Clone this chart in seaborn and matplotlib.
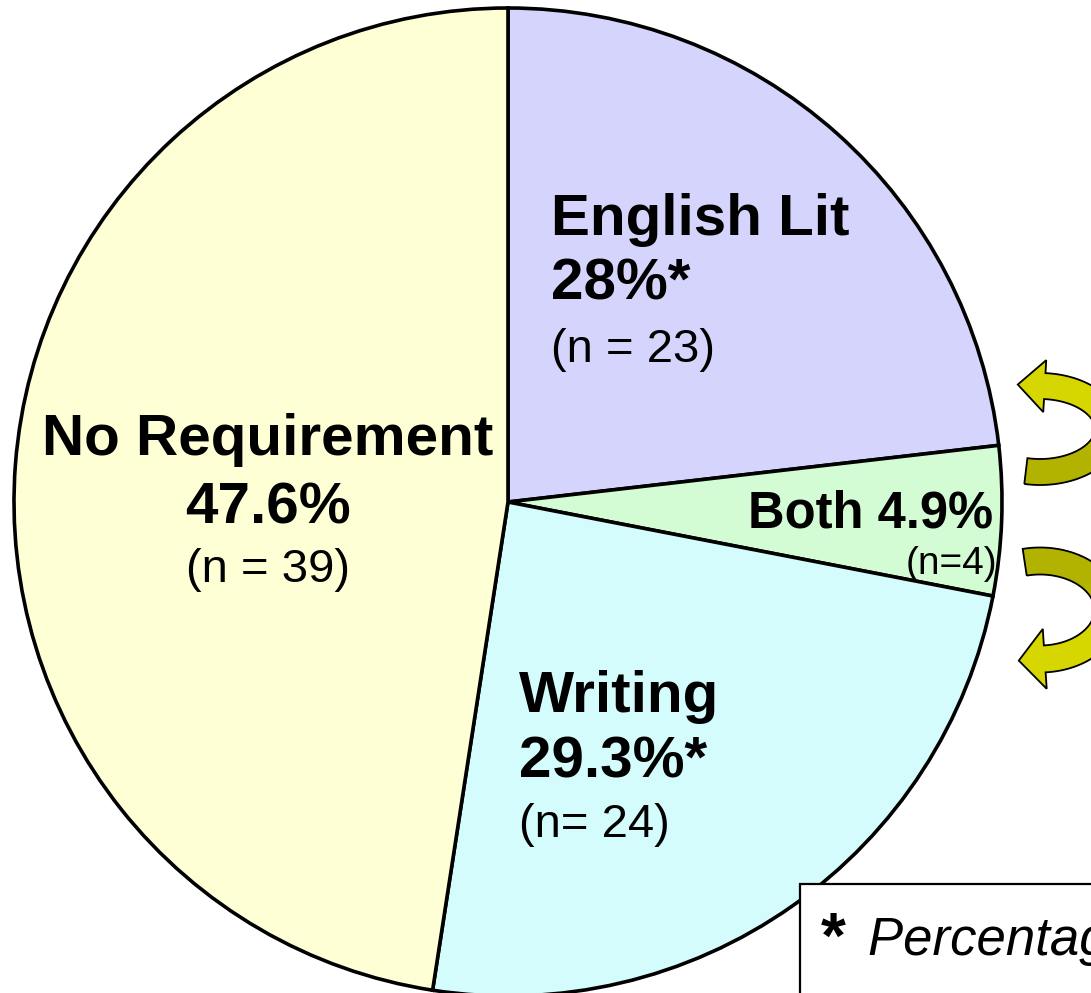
import numpy as np
import matplotlib
matplotlib.use("Agg")
import matplotlib.pyplot as plt
from matplotlib.patches import Polygon, Rectangle
from matplotlib.colors import to_rgb
import seaborn as sns

# slice data (students in each group; "Both" counted once)
slice_names = ["English Lit", "Both", "Writing", "No Requirement"]
slice_counts = [19, 4, 20, 39]
slice_colors = ["#D4D4FC", "#D4FCD4", "#D4FCFC", "#FFFFD6"]

# labels as printed on the chart
label_pct = ["28%*", "4.9%", "29.3%*", "47.6%"]
label_n = ["(n = 23)", "(n=4)", "(n= 24)", "(n = 39)"]

footnote = ["Percentages include", "   those in Both"]

sns.set_style("white")
plt.rcParams["font.family"] = ["Liberation Sans", "DejaVu Sans"]
plt.rcParams["text.color"] = "black"

W, H = 1091, 993
fig = plt.figure(figsize=(W / 100, H / 100), dpi=100)

# pie, centre (508, 502) px, radius 494 px
cx, cy, r = 508, 502, 494
pax = fig.add_axes([(cx - r) / W, (H - cy - r) / H, 2 * r / W, 2 * r / H])
wedges, _ = pax.pie(slice_counts, colors=slice_colors, startangle=90,
                    counterclock=False, radius=1,
                    wedgeprops=dict(edgecolor="black", linewidth=2.6))
for w in wedges:
    w.set_clip_on(False)
pax.set_xlim(-1, 1)
pax.set_ylim(-1, 1)
pax.set_aspect("auto")
pax.axis("off")

# overlay in pixel coordinates
ov = fig.add_axes([0, 0, 1, 1], zorder=5)
ov.set_xlim(0, W)
ov.set_ylim(H, 0)
ov.axis("off")
ov.patch.set_alpha(0)

big = 42
small = 34

# English Lit
ov.text(551, 235, slice_names[0], fontsize=big, fontweight="bold", va="baseline")
ov.text(551, 300, label_pct[0], fontsize=big, fontweight="bold", va="baseline")
ov.text(551, 362, label_n[0], fontsize=small, va="baseline")

# Both
ov.text(993, 527, slice_names[1] + " " + label_pct[1], fontsize=36.5,
        fontweight="bold", va="baseline", ha="right")
ov.text(997, 574, label_n[1], fontsize=28, va="baseline", ha="right")

# Writing
ov.text(519, 712, slice_names[2], fontsize=big, fontweight="bold", va="baseline")
ov.text(519, 777, label_pct[2], fontsize=big, fontweight="bold", va="baseline")
ov.text(519, 837, label_n[2], fontsize=small, va="baseline")

# No Requirement
ov.text(268, 455, slice_names[3], fontsize=big, fontweight="bold",
        va="baseline", ha="center")
ov.text(268, 523, label_pct[3], fontsize=big, fontweight="bold",
        va="baseline", ha="center")
ov.text(268, 582, label_n[3], fontsize=small, va="baseline", ha="center")


def curved_arrow(ax, ecx, ecy, rx, ry, t0, t1, width, head_w, head_len,
                 c_tail="#B2B200", c_head="#D6D600"):
    t = np.radians(np.linspace(t0, t1, 80))
    px = ecx + rx * np.cos(t)
    py = ecy - ry * np.sin(t)
    dx = np.gradient(px)
    dy = np.gradient(py)
    norm = np.hypot(dx, dy)
    dx, dy = dx / norm, dy / norm
    nx, ny = -dy, dx
    lx, ly = px + nx * width / 2, py + ny * width / 2
    rxp, ryp = px - nx * width / 2, py - ny * width / 2
    ct, ch = np.array(to_rgb(c_tail)), np.array(to_rgb(c_head))
    n = len(t)
    for i in range(n - 1):
        f = i / (n - 2)
        f = np.clip((f - 0.3) / 0.4, 0, 1)
        f = f * f * (3 - 2 * f)
        col = ct * (1 - f) + ch * f
        quad = [(lx[i], ly[i]), (lx[i + 1], ly[i + 1]),
                (rxp[i + 1], ryp[i + 1]), (rxp[i], ryp[i])]
        ax.add_patch(Polygon(quad, closed=True, facecolor=col,
                             edgecolor=col, linewidth=0.6))
    ex, ey = px[-1], py[-1]
    hl = (ex + nx[-1] * head_w / 2, ey + ny[-1] * head_w / 2)
    hr = (ex - nx[-1] * head_w / 2, ey - ny[-1] * head_w / 2)
    tip = (ex + dx[-1] * head_len, ey + dy[-1] * head_len)
    ax.add_patch(Polygon([hl, tip, hr], closed=True, facecolor=ch,
                         edgecolor=ch, linewidth=0.6))
    outline = list(zip(lx, ly)) + [hl, tip, hr] + list(zip(rxp[::-1], ryp[::-1]))
    ax.add_patch(Polygon(outline, closed=True, facecolor="none",
                         edgecolor="black", linewidth=1.3))


curved_arrow(ov, 1040, 429, 68, 43, -102, 86, 26, 52, 27)
curved_arrow(ov, 1040, 610, 68, 49, 103, -86, 27, 60, 26)

# footnote box, runs off the figure edge
ov.add_patch(Rectangle((800, 884), 400, 200, facecolor="white",
                       edgecolor="black", linewidth=1.6, zorder=6))
ov.text(821, 958, "*", fontsize=46, fontweight="bold", va="baseline", zorder=7)
ov.text(868, 955, footnote[0], fontsize=38, fontstyle="italic",
        va="baseline", zorder=7)
ov.text(822, 1034, footnote[1], fontsize=38, fontstyle="italic",
        va="baseline", zorder=7)

fig.savefig("out.png", dpi=100)
